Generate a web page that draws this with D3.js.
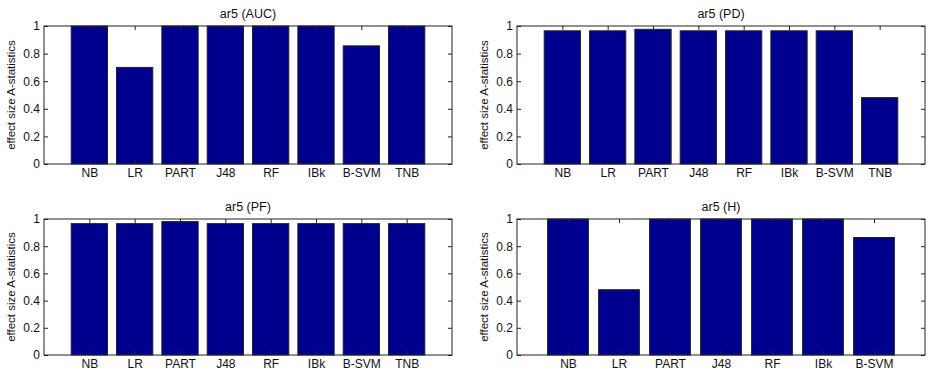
<html>
<head>
<script src="https://d3js.org/d3.v7.min.js"></script>
<style>
body { margin: 0; background: #fff; }
text { font-family: "Liberation Sans", Arial, sans-serif; fill: #111; }
</style>
</head>
<body>
<svg id="chart" width="928" height="377"></svg>
<script>
// classifiers
var learners = ["NB", "LR", "PART", "J48", "RF", "IBk", "B-SVM", "TNB"];
var learnersH = ["NB", "LR", "PART", "J48", "RF", "IBk", "B-SVM"];

// effect size values
var aucVals = [1, 0.70, 1, 1, 1, 1, 0.856, 1];
var pdVals = [0.965, 0.965, 0.976, 0.965, 0.965, 0.965, 0.965, 0.481];
var pfVals = [0.966, 0.966, 0.981, 0.966, 0.966, 0.966, 0.966, 0.966];
var hVals = [1, 0.48, 1, 1, 1, 1, 0.864];

var titles = ["ar5 (AUC)", "ar5 (PD)", "ar5 (PF)", "ar5 (H)"];
var yTicks = [0, 0.2, 0.4, 0.6, 0.8, 1];

var panels = [
  {title: titles[0], cats: learners, vals: aucVals, x: 44, y: 26, w: 408, h: 138},
  {title: titles[1], cats: learners, vals: pdVals, x: 517, y: 26, w: 408, h: 138},
  {title: titles[2], cats: learners, vals: pfVals, x: 44, y: 219, w: 408, h: 136},
  {title: titles[3], cats: learnersH, vals: hVals, x: 517, y: 219, w: 408, h: 136}
];

var svg = d3.select("#chart");
var tickLen = 4;

panels.forEach(function(p) {
  var g = svg.append("g").attr("transform", "translate(" + p.x + "," + p.y + ")");
  var n = p.cats.length;
  // matlab style: bars at 1..n, xlim [0, n+1]
  var xs = d3.scaleLinear().domain([0, n + 1]).range([0, p.w]);
  var ys = d3.scaleLinear().domain([0, 1]).range([p.h, 0]);
  var bw = xs(0.8) - xs(0);

  g.selectAll("rect.bar")
    .data(p.vals)
    .enter().append("rect")
    .attr("class", "bar")
    .attr("x", function(d, i) { return xs(i + 1) - bw / 2; })
    .attr("y", function(d) { return ys(d); })
    .attr("width", bw)
    .attr("height", function(d) { return ys(0) - ys(d); })
    .attr("fill", "#00008f")
    .attr("stroke", "#222")
    .attr("stroke-width", 1);

  // left axis (ticks inward)
  var left = g.append("g").call(d3.axisLeft(ys).tickValues(yTicks).tickSize(-tickLen).tickPadding(4)
      .tickFormat(function(d) { return d3.format("~g")(d); }));
  left.select(".domain").remove();
  left.selectAll("line").attr("stroke", "#222");
  left.selectAll("text").style("font-size", "12px").attr("fill", "#111");

  // right axis ticks
  var right = g.append("g").attr("transform", "translate(" + p.w + ",0)")
    .call(d3.axisRight(ys).tickValues(yTicks).tickSize(-tickLen).tickFormat(""));
  right.select(".domain").remove();
  right.selectAll("line").attr("stroke", "#222");

  // bottom axis
  var bottom = g.append("g").attr("transform", "translate(0," + p.h + ")")
    .call(d3.axisBottom(xs).tickValues(d3.range(1, n + 1)).tickSize(-tickLen).tickPadding(4)
      .tickFormat(function(d) { return p.cats[d - 1]; }));
  bottom.select(".domain").remove();
  bottom.selectAll("line").attr("stroke", "#222");
  bottom.selectAll("text").style("font-size", "12px").attr("fill", "#111");

  // top ticks
  var top = g.append("g")
    .call(d3.axisTop(xs).tickValues(d3.range(1, n + 1)).tickSize(-tickLen).tickFormat(""));
  top.select(".domain").remove();
  top.selectAll("line").attr("stroke", "#222");

  // box
  g.append("rect")
    .attr("x", 0).attr("y", 0).attr("width", p.w).attr("height", p.h)
    .attr("fill", "none").attr("stroke", "#222").attr("stroke-width", 1);

  // title
  g.append("text")
    .attr("x", p.w / 2).attr("y", -8)
    .attr("text-anchor", "middle")
    .style("font-size", "12.5px")
    .text(p.title);

  // y label
  g.append("text")
    .attr("transform", "translate(-29," + (p.h / 2) + ") rotate(-90)")
    .attr("text-anchor", "middle")
    .style("font-size", "11.5px")
    .text("effect size A-statistics");
});
</script>
</body>
</html>
